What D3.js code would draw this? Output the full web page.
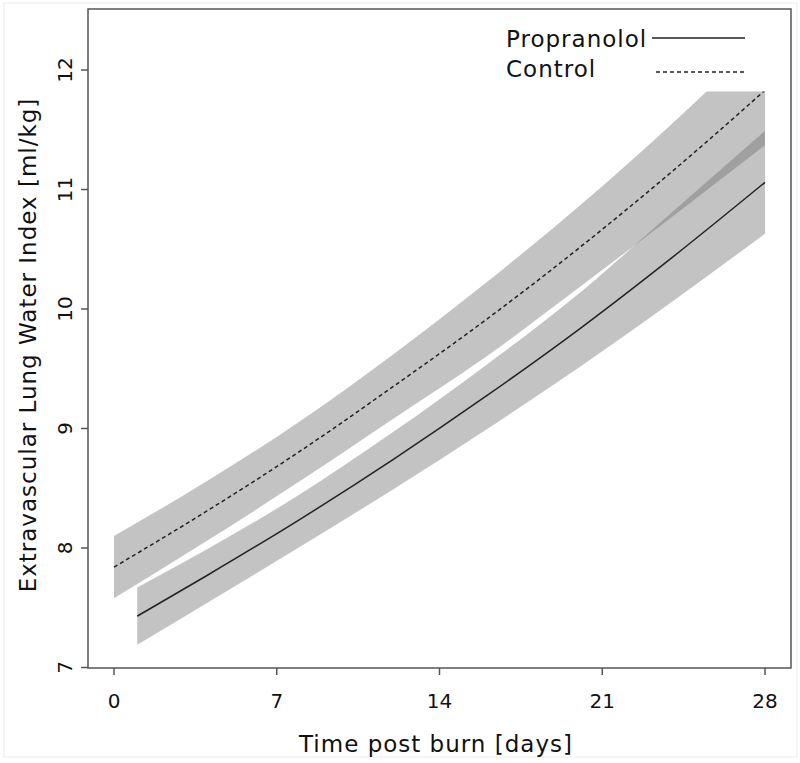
<!DOCTYPE html>
<html>
<head>
<meta charset="utf-8">
<script src="https://cdn.jsdelivr.net/npm/d3@7"></script>
<style>
  body { margin: 0; background: #fff; }
  text { font-family: "DejaVu Sans", sans-serif; fill: #111; }
  .title { letter-spacing: 1px; }
</style>
</head>
<body>
<svg id="chart" width="800" height="763"></svg>
<script>
// days and fitted values
var controlDays = [0, 4, 8, 12, 16, 20, 24, 28];
var controlFit = [7.84, 8.31, 8.81, 9.35, 9.91, 10.51, 11.15, 11.83];
var controlLow = [7.58, 8.06, 8.56, 9.08, 9.60, 10.18, 10.77, 11.37];
var controlHigh = [8.10, 8.56, 9.06, 9.62, 10.22, 10.86, 11.55, 12.29];

var propDays = [1, 4, 8, 12, 16, 20, 24, 28];
var propFit = [7.43, 7.77, 8.24, 8.74, 9.27, 9.83, 10.43, 11.06];
var propLow = [7.19, 7.54, 8.01, 8.49, 8.99, 9.51, 10.06, 10.63];
var propHigh = [7.67, 7.99, 8.45, 8.97, 9.53, 10.13, 10.81, 11.49];

var xTicks = [0, 7, 14, 21, 28];
var yTicks = [7, 8, 9, 10, 11, 12];
var clipTop = 11.82;

var svg = d3.select("#chart");

// plot box
var boxLeft = 88, boxRight = 791, boxTop = 9, boxBottom = 668;

var x = d3.scaleLinear().domain([0, 28]).range([114, 765]);
var y = d3.scaleLinear().domain([7, 12]).range([667.5, 70]);

// faint outer frame
svg.append("rect")
  .attr("x", 4).attr("y", 3)
  .attr("width", 793).attr("height", 754)
  .attr("fill", "none")
  .attr("stroke", "#ececec");

svg.append("clipPath").attr("id", "plotclip")
  .append("rect")
  .attr("x", boxLeft).attr("y", y(clipTop))
  .attr("width", boxRight - boxLeft).attr("height", boxBottom - y(clipTop));

function rows(days, fit, lo, hi) {
  return days.map(function(d, i) { return {day: d, fit: fit[i], lo: lo[i], hi: hi[i]}; });
}
var control = rows(controlDays, controlFit, controlLow, controlHigh);
var prop = rows(propDays, propFit, propLow, propHigh);

var area = d3.area()
  .curve(d3.curveMonotoneX)
  .x(function(d) { return x(d.day); })
  .y0(function(d) { return y(d.lo); })
  .y1(function(d) { return y(d.hi); });

var line = d3.line()
  .curve(d3.curveMonotoneX)
  .x(function(d) { return x(d.day); })
  .y(function(d) { return y(d.fit); });

var g = svg.append("g").attr("clip-path", "url(#plotclip)");

// two see-through bands, darker where they overlap
[control, prop].forEach(function(s) {
  g.append("path")
    .attr("d", area(s))
    .attr("fill", "#707070")
    .attr("fill-opacity", 0.42);
});

g.append("path")
  .attr("d", line(control))
  .attr("fill", "none")
  .attr("stroke", "#222")
  .attr("stroke-width", 1.5)
  .attr("stroke-dasharray", "4,3");

g.append("path")
  .attr("d", line(prop))
  .attr("fill", "none")
  .attr("stroke", "#222")
  .attr("stroke-width", 1.5);

// box
svg.append("rect")
  .attr("x", boxLeft).attr("y", boxTop)
  .attr("width", boxRight - boxLeft).attr("height", boxBottom - boxTop)
  .attr("fill", "none")
  .attr("stroke", "#555")
  .attr("stroke-width", 1.5);

// x axis ticks
var xg = svg.append("g");
xg.selectAll("line").data(xTicks).enter().append("line")
  .attr("x1", function(d) { return x(d); }).attr("x2", function(d) { return x(d); })
  .attr("y1", boxBottom).attr("y2", boxBottom + 7)
  .attr("stroke", "#555").attr("stroke-width", 1.5);
xg.selectAll("text").data(xTicks).enter().append("text")
  .attr("x", function(d) { return x(d); })
  .attr("y", 708)
  .attr("text-anchor", "middle")
  .attr("font-size", "20px")
  .text(function(d) { return d; });

// y axis ticks
var yg = svg.append("g");
yg.selectAll("line").data(yTicks).enter().append("line")
  .attr("y1", function(d) { return y(d); }).attr("y2", function(d) { return y(d); })
  .attr("x1", boxLeft).attr("x2", boxLeft - 7)
  .attr("stroke", "#555").attr("stroke-width", 1.5);
yg.selectAll("text").data(yTicks).enter().append("text")
  .attr("transform", function(d) { return "translate(72," + y(d) + ") rotate(-90)"; })
  .attr("text-anchor", "middle")
  .attr("font-size", "20px")
  .text(function(d) { return d; });

// axis titles
svg.append("text")
  .attr("class", "title")
  .attr("x", 436).attr("y", 752)
  .attr("text-anchor", "middle")
  .attr("font-size", "23px")
  .text("Time post burn [days]");

svg.append("text")
  .attr("class", "title")
  .attr("transform", "translate(36,345) rotate(-90)")
  .attr("text-anchor", "middle")
  .attr("font-size", "23px")
  .text("Extravascular Lung Water Index [ml/kg]");

// legend
svg.append("text")
  .attr("class", "title")
  .attr("x", 506).attr("y", 47)
  .attr("font-size", "23px")
  .text("Propranolol");
svg.append("line")
  .attr("x1", 652).attr("x2", 745).attr("y1", 38).attr("y2", 38)
  .attr("stroke", "#222").attr("stroke-width", 1.5);

svg.append("text")
  .attr("class", "title")
  .attr("x", 506).attr("y", 77)
  .attr("font-size", "23px")
  .text("Control");
svg.append("line")
  .attr("x1", 656).attr("x2", 745).attr("y1", 72).attr("y2", 72)
  .attr("stroke", "#222").attr("stroke-width", 1.5)
  .attr("stroke-dasharray", "4,3");
</script>
</body>
</html>
